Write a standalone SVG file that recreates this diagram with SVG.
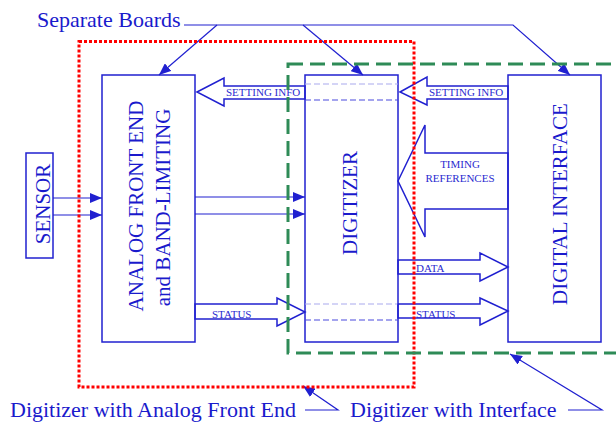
<svg xmlns="http://www.w3.org/2000/svg" width="616" height="422" viewBox="0 0 616 422">
<style>
.box{fill:none;stroke:#2020d0;stroke-width:1.5}
.blk{fill:none;stroke:#2020d0;stroke-width:1.5;stroke-linejoin:miter}
.ln{fill:none;stroke:#2020d0;stroke-width:1.2}
text{font-family:'Liberation Serif','Times New Roman','DejaVu Serif',Times,serif}
.big{font-size:21px;fill:#1a1acc}
.lbl{font-size:22px;fill:#1a1acc}
.sm{font-size:11px;fill:#2a2ad0}
.dl{stroke:#aaaaee;stroke-width:1.2;stroke-dasharray:6 3}
.dd{stroke:#4a4ade;stroke-width:1.2;stroke-dasharray:6 3}
</style>
<defs>
<marker id="ah" markerUnits="userSpaceOnUse" markerWidth="12" markerHeight="10" viewBox="0 0 12 10" refX="12" refY="5" orient="auto">
<path d="M0,0 L12,5 L0,10 Z" fill="#2020d0"/>
</marker>
</defs>
<rect x="0" y="0" width="616" height="422" fill="#ffffff"/>
<g id="sensor">
<rect class="box" x="26" y="153" width="27" height="105"/>
<text class="big" transform="translate(50,204) rotate(-90)" text-anchor="middle">SENSOR</text>
</g>
<g id="afe">
<rect class="box" x="102" y="75" width="93" height="267"/>
<text class="big" transform="translate(143,206) rotate(-90)" text-anchor="middle">ANALOG FRONT END</text>
<text class="big" transform="translate(170,207.5) rotate(-90)" text-anchor="middle">and BAND-LIMITING</text>
</g>
<g id="digitizer">
<rect class="box" x="305" y="75" width="93" height="267"/>
<line class="dl" x1="305" y1="84" x2="398" y2="84"/>
<line class="dd" x1="305" y1="100" x2="398" y2="100"/>
<line class="dl" x1="305" y1="304" x2="398" y2="304"/>
<line class="dd" x1="305" y1="320" x2="398" y2="320"/>
<text class="big" transform="translate(357,203) rotate(-90)" text-anchor="middle">DIGITIZER</text>
</g>
<g id="digital-interface">
<rect class="box" x="508" y="75" width="93" height="267"/>
<text class="big" transform="translate(567,204) rotate(-90)" text-anchor="middle">DIGITAL INTERFACE</text>
</g>
<g id="connectors">
<line class="ln" x1="53" y1="198" x2="102" y2="198" marker-end="url(#ah)"/>
<line class="ln" x1="53" y1="215" x2="102" y2="215" marker-end="url(#ah)"/>
<line class="ln" x1="195" y1="197" x2="305" y2="197" marker-end="url(#ah)"/>
<line class="ln" x1="195" y1="214" x2="305" y2="214" marker-end="url(#ah)"/>
<polygon class="blk" points="197,92 224,78 224,86 305,86 305,99 224,99 224,106"/>
<polygon class="blk" points="400,92 427,77 427,86 508,86 508,99 427,99 427,105"/>
<polygon class="blk" points="398,181 425,125 425,153 508,153 508,209 425,209 425,237"/>
<polygon class="blk" points="195,304 277,304 277,298 305,312 277,326 277,319 195,319"/>
<polygon class="blk" points="398,260 480,260 480,253 508,267 480,281 480,274 398,274"/>
<polygon class="blk" points="398,304 480,304 480,298 508,311 480,325 480,318 398,318"/>
<polyline class="ln" points="184,25 513,25 570,75" marker-end="url(#ah)"/>
<line class="ln" x1="217" y1="25" x2="159" y2="75" marker-end="url(#ah)"/>
<line class="ln" x1="303" y1="25" x2="363" y2="75" marker-end="url(#ah)"/>
<polyline class="ln" points="305,410 338,410 303,386" marker-end="url(#ah)"/>
<polyline class="ln" points="568,410 602,410 510,354" marker-end="url(#ah)"/>
</g>
<g id="labels">
<text class="sm" x="226" y="96">SETTING INFO</text>
<text class="sm" x="429" y="96">SETTING INFO</text>
<text class="sm" x="460" y="168" text-anchor="middle">TIMING</text>
<text class="sm" x="460" y="182" text-anchor="middle">REFERENCES</text>
<text class="sm" x="212" y="318">STATUS</text>
<text class="sm" x="416" y="272">DATA</text>
<text class="sm" x="416" y="318">STATUS</text>
<text class="lbl" x="37" y="27">Separate Boards</text>
<text class="lbl" x="10" y="417">Digitizer with Analog Front End</text>
<text class="lbl" x="350" y="417">Digitizer with Interface</text>
</g>
<g id="boards">
<rect x="79" y="41.5" width="335" height="345.5" fill="none" stroke="#ff0000" stroke-width="3" stroke-dasharray="3 2"/>
<rect x="288" y="64" width="340" height="289" fill="none" stroke="#2e8b57" stroke-width="3" stroke-dasharray="15 7"/>
</g>
</svg>
